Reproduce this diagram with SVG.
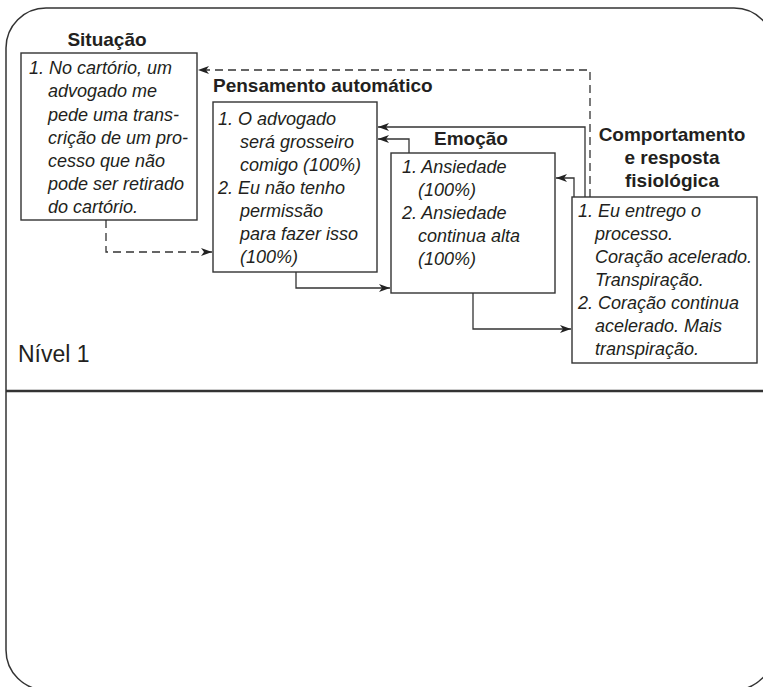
<svg xmlns="http://www.w3.org/2000/svg" width="763" height="687" viewBox="0 0 763 687">
<style>
.frame{fill:none;stroke:#333;stroke-width:1.5}
.box{fill:#fff;stroke:#333;stroke-width:1.4}
.title{font-family:"Liberation Sans",Arial,sans-serif;font-weight:bold;font-size:19px;fill:#231f20}
.body{font-family:"Liberation Sans",Arial,sans-serif;font-style:italic;font-size:18px;fill:#231f20}
.lvl{font-family:"Liberation Sans",Arial,sans-serif;font-size:23px;fill:#231f20}
.solid{fill:none;stroke:#333;stroke-width:1.3;marker-end:url(#arr)}
.dash{fill:none;stroke:#333;stroke-width:1.3;stroke-dasharray:8 5;marker-end:url(#arr)}
</style>
<defs>
<marker id="arr" markerUnits="userSpaceOnUse" markerWidth="12" markerHeight="8" refX="11" refY="4" orient="auto">
<path d="M0,0 L11,4 L0,8 L3,4 Z" fill="#222"/>
</marker>
</defs>
<rect width="763" height="687" fill="#fff"/>
<rect class="frame" x="6" y="8" width="768" height="682" rx="40" ry="40"/>
<line x1="6" y1="391" x2="763" y2="391" stroke="#333" stroke-width="2.5"/>
<text class="lvl" x="18" y="362">Nível 1</text>

<g id="connectors">
<path class="dash" d="M106,220 V252 H212"/>
<path class="dash" d="M590,197 V70 H198"/>
<path class="solid" d="M296,272 V288 H390"/>
<path class="solid" d="M473,293 V329 H571"/>
<path class="solid" d="M585,197 V127 H378"/>
<path class="solid" d="M409,153 V139 H378"/>
<path class="solid" d="M574,197 V178 H556"/>
</g>

<g id="situacao">
<text class="title" x="107" y="46" text-anchor="middle">Situação</text>
<rect class="box" x="21" y="53" width="176" height="167"/>
<text class="body" x="29" y="74">1. No cartório, um</text>
<text class="body" x="48" y="97">advogado me</text>
<text class="body" x="48" y="121">pede uma trans-</text>
<text class="body" x="48" y="144">crição de um pro-</text>
<text class="body" x="48" y="167">cesso que não</text>
<text class="body" x="48" y="190">pode ser retirado</text>
<text class="body" x="48" y="213">do cartório.</text>
</g>

<g id="pensamento">
<text class="title" x="213" y="92">Pensamento automático</text>
<rect class="box" x="213" y="102" width="164" height="170"/>
<text class="body" x="218" y="125">1. O advogado</text>
<text class="body" x="240" y="148">será grosseiro</text>
<text class="body" x="240" y="171">comigo (100%)</text>
<text class="body" x="218" y="194">2. Eu não tenho</text>
<text class="body" x="240" y="217">permissão</text>
<text class="body" x="240" y="240">para fazer isso</text>
<text class="body" x="240" y="263">(100%)</text>
</g>

<g id="emocao">
<text class="title" x="471" y="145" text-anchor="middle">Emoção</text>
<rect class="box" x="391" y="153" width="164" height="140"/>
<text class="body" x="402" y="173">1. Ansiedade</text>
<text class="body" x="418" y="196">(100%)</text>
<text class="body" x="402" y="219">2. Ansiedade</text>
<text class="body" x="418" y="242">continua alta</text>
<text class="body" x="418" y="265">(100%)</text>
</g>

<g id="comportamento">
<text class="title" x="672" y="141" text-anchor="middle">Comportamento</text>
<text class="title" x="672" y="164" text-anchor="middle">e resposta</text>
<text class="title" x="672" y="187" text-anchor="middle">fisiológica</text>
<rect class="box" x="572" y="197" width="185" height="166"/>
<text class="body" x="578" y="217">1. Eu entrego o</text>
<text class="body" x="595" y="240">processo.</text>
<text class="body" x="595" y="263">Coração acelerado.</text>
<text class="body" x="595" y="286">Transpiração.</text>
<text class="body" x="578" y="309">2. Coração continua</text>
<text class="body" x="595" y="332">acelerado. Mais</text>
<text class="body" x="595" y="355">transpiração.</text>
</g>
</svg>
